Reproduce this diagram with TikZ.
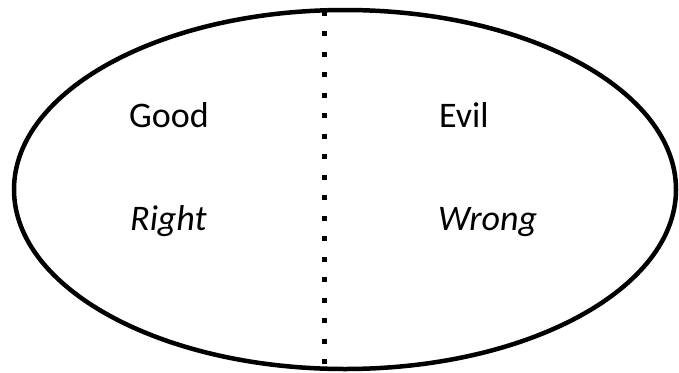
\documentclass[tikz,border=0pt]{standalone}
\usepackage{fontspec}
\setmainfont{Carlito}
\usepackage{tikz}
\usetikzlibrary{positioning}

\tikzset{
  label text/.style={anchor=base west, inner sep=0pt, font=\fontsize{36}{40}\selectfont},
  divider/.style={line width=5pt, line cap=butt, dash pattern=on 5pt off 15.5pt}
}

\begin{document}
\begin{tikzpicture}[x=1pt,y=-1pt]
  \path[use as bounding box] (0,0) rectangle (679,372);

  % Outer Ellipse
  \draw[line width=4.5pt] (345,189.5) ellipse [x radius=331, y radius=179.5];

  % Dotted Divider
  \coordinate (divtop) at (324.5,10.5);
  \coordinate (divbot) at (324.5,366);
  \draw[divider] (divtop) -- (divbot);

  % Labels
  \node[label text] (good) at (129,127) {Good};
  \node[label text] (evil) at (439,127) {Evil};
  \node[label text] (right) at (130,230.5) {\itshape Right};
  \node[label text] (wrong) at (438,230.5) {\itshape Wrong};
\end{tikzpicture}
\end{document}
